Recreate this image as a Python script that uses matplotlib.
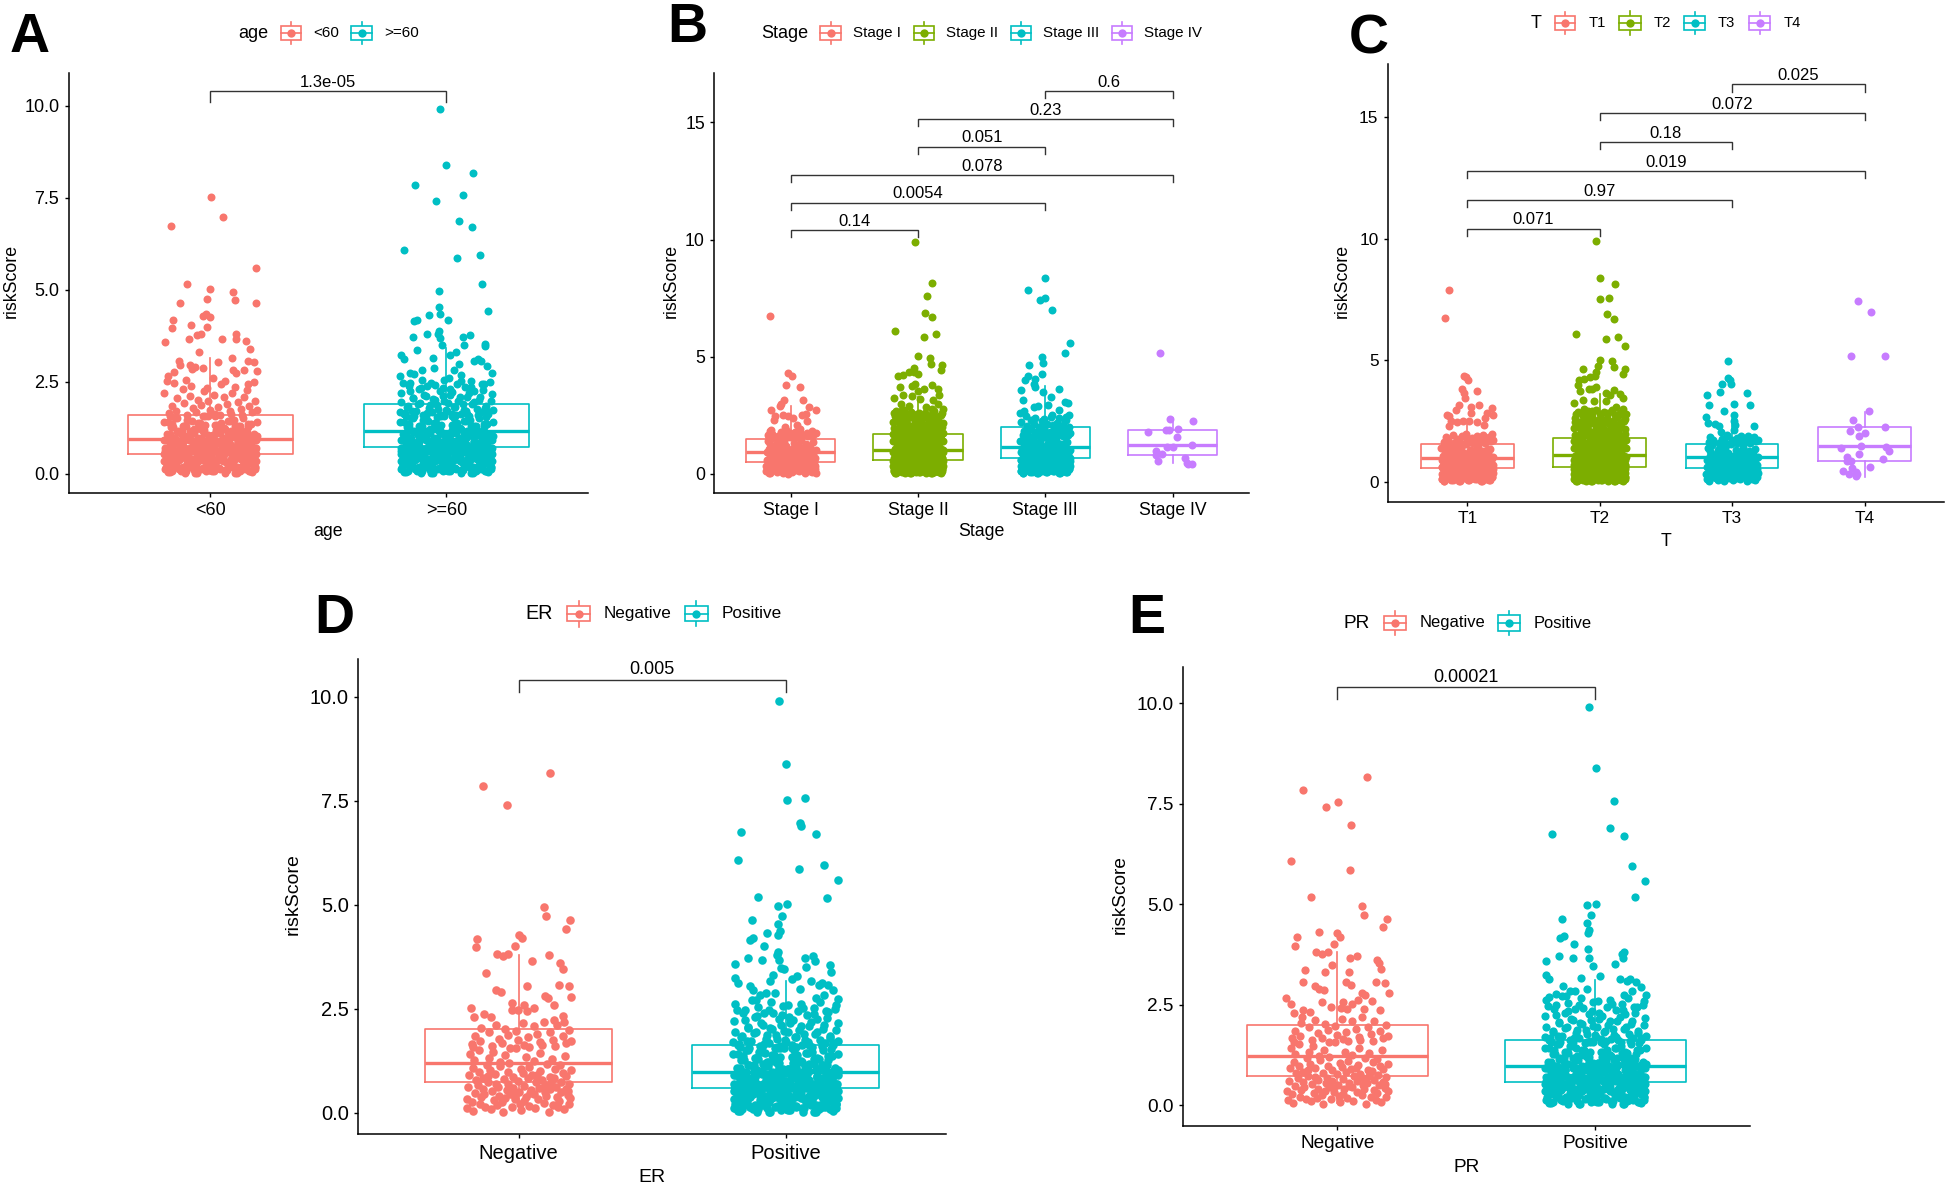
import matplotlib
matplotlib.use("Agg")
import matplotlib.pyplot as plt
from matplotlib.patches import Rectangle
from matplotlib.lines import Line2D

plt.rcParams['font.family'] = ['Liberation Sans', 'DejaVu Sans']

W, H = 1946, 1187
RED, GREEN, TEAL, PURPLE = '#F8766D', '#7CAE00', '#00BFC4', '#C77CFF'

# ---- dense lower cloud, read from the packed part of the strips (jitter as a share of the strip half width)
low_j = [-.97,-.93,-.96,-.90,-.94,-.88,-.85,-.82,-.86,-.80,-.83,-.76,-.72,-.74,-.70,-.75,-.66,-.62,-.67,-.60,-.64,-.57,
         -.55,-.52,-.58,-.49,-.53,-.46,-.43,-.47,-.40,-.44,-.37,-.34,-.38,-.31,-.35,-.28,-.25,-.29,-.22,-.26,-.19,-.16,
         -.20,-.13,-.17,-.10,-.07,-.11,-.04,-.08,-.01,.02,.05,.01,.08,.04,.11,.14,.10,.17,.13,.20,.23,.19,.26,.22,
         .29,.32,.28,.35,.31,.38,.41,.37,.44,.40,.47,.50,.53,.49,.56,.52,.59,.62,.58,.65,.61,.68,.71,.67,.74,.70,
         .77,.80,.76,.83,.79,.86,.89,.85,.92,.88,.95,.98,.94,.97,.93]
low_v = [.34,.92,.12,1.41,.61,.27,1.08,.48,.05,.79,1.27,.66,.21,.98,.38,1.52,.83,.15,.57,1.16,.44,.73,
         1.31,.09,.88,.52,1.03,.30,.70,1.46,.18,.93,.41,1.12,.62,.25,1.22,.80,.36,.03,.55,1.38,.97,.46,
         .68,.14,1.19,.87,.32,.59,1.56,.42,.76,.22,1.05,.50,.95,.07,.64,1.33,.28,.83,.39,1.10,.54,.17,.90,.47,
         1.25,.73,.45,.91,.11,.60,1.43,.33,.78,1.00,.24,.51,1.17,.67,.02,.40,.86,1.29,.56,.19,.71,1.06,.37,.84,.13,.63,
         1.14,.49,.29,.96,.75,1.36,.58,.08,.43,.89,.20,1.02,.69,.35,.53]
high_j = [-.95,-.88,-.97,-.82,-.76,-.85,-.70,-.64,-.73,-.58,-.55,-.49,-.52,-.43,-.37,-.40,-.31,-.25,-.28,-.19,-.13,-.16,
          -.07,-.01,-.04,.05,.11,.08,.17,.23,.20,.29,.35,.32,.41,.47,.44,.53,.59,.56,.65,.71,.68,.77,.83,.80,.89,.95,.92,.98]
high_v = [2.62,1.66,2.21,1.84,2.48,1.58,2.05,2.71,1.72,2.30,1.93,1.61,2.55,2.12,1.78,2.40,1.68,2.02,2.66,1.87,2.26,1.56,
          2.34,1.74,1.97,2.60,1.64,2.15,1.81,2.45,1.59,2.08,1.90,2.52,1.70,2.19,1.62,2.37,1.95,2.75,1.76,2.10,1.60,2.28,1.85,2.43,1.67,1.99,2.50,1.73]

# ---- panel A
a1_j = [-.167,.003,.053,.193,-.10,0,.095,-.015,.103,-.13,.193,-.02,-.03,0,-.157,-.162,-.083,-.015,-.19,-.09,-.057,-.04,.048,.11,.108,.153,.167,-.047,.093,.031,-.134,-.13,-.086,-.064,-.031,-.078,.159,.186,-.155,-.18,-.183,.198,.143,.095,.107]
a1_v = [6.74,7.53,6.98,5.58,5.17,5.02,4.95,4.74,4.72,4.63,4.63,4.34,4.29,4.27,4.17,3.97,4.03,4.0,3.57,3.67,3.78,3.8,3.65,3.8,3.65,3.61,3.39,3.32,3.15,3.04,3.06,2.96,2.95,2.9,2.88,2.85,3.06,3.03,2.76,2.67,2.51,2.79,2.83,2.81,2.74]
a2_j = [-.026,0,.114,-.134,.069,-.045,.055,.109,-.181,.047,.141,.152,-.033,-.033,.176,-.072,-.026,-.136,-.124,.009,-.029,-.083,-.034,-.143,-.026,.072,.1,.074,.162,.162,-.017,-.126,.04,.016,-.193,-.181,-.057,.117,.133,.148,.052,.172,-.053,-.102,.034,.195,-.155,-.136,-.198,.06]
a2_v = [9.9,8.39,8.16,7.85,7.57,7.42,6.88,6.7,6.09,5.85,5.95,5.17,4.98,4.53,4.42,4.31,4.34,4.16,4.19,4.18,3.88,3.81,3.81,3.71,3.68,3.73,3.77,3.5,3.54,3.47,3.49,3.37,3.3,3.22,3.24,3.13,3.16,3.06,3.13,3.06,2.98,2.93,2.88,2.83,2.83,2.73,2.74,2.71,2.66,2.69]

# ---- panel B
b1_j = [-.163,-.02,.01,-.035,.077,-.054,.096,-.074,-.086,-.154,.198,.144,.118,.086,-.12,-.064,-.02,.022,.128,-.128,-.042,.048,-.154,.064,-.163,-.02,.198]
b1_v = [6.72,4.31,4.19,3.81,3.73,3.16,3.16,2.97,2.9,2.73,2.73,2.85,2.55,2.5,2.47,2.5,2.47,2.39,2.27,2.32,2.0,2.09,1.86,1.86,.03,0,.03]
b2_j = [-.022,.112,.07,.058,.109,-.182,.048,.144,.003,.093,.102,.192,-.032,.179,-.16,-.115,-.067,-.003,-.03,-.05,-.14,-.02,.112,.05,.157,.166,-.12,-.189,-.048,0,.118,.013,.16,-.131,.198,-.067,-.17,.06]
b2_v = [9.9,8.14,7.58,6.88,6.69,6.08,5.85,5.95,5.02,4.94,4.71,4.63,4.53,4.42,4.18,4.22,4.33,4.27,4.37,3.77,3.72,3.84,3.8,3.61,3.61,3.38,3.38,3.23,3.31,3.54,3.16,3.19,3.0,3.0,2.77,2.9,2.7,2.85]
b3_j = [0,-.134,0,-.045,.054,.195,.154,-.029,-.016,-.128,-.029,-.138,-.163,-.08,-.09,-.08,-.189,.106,-.019,.045,-.179,.154,.182,-.09,-.058,.022,.106,-.17,.166,.054,-.2]
b3_v = [8.38,7.85,7.52,7.41,6.98,5.58,5.15,4.98,4.73,4.63,4.27,4.18,3.99,4.07,3.84,3.69,3.57,3.64,3.49,3.29,3.14,3.05,3.02,2.85,2.9,2.93,2.73,2.7,2.29,2.52,2.62]
b4_j = [-.099,-.022,.157,-.192,-.054,-.032,.042,.032,.15,-.048,0,-.128,-.086,-.128,-.118,.099,.112,.15,.118]
b4_v = [5.15,2.36,2.24,1.77,1.86,1.89,1.92,1.59,1.25,1.13,1.14,.99,.84,.79,.56,.69,.46,.44,.41]

# ---- panel C
c1_j = [-.136,-.166,-.028,-.009,.006,-.037,.074,-.025,-.015,-.059,.092,.031,.185,-.083,.148,-.154,.194,-.139,.025,.133,-.123,-.077,-.031,.015,.077,.123,-.139]
c1_v = [7.88,6.75,4.35,4.31,4.19,3.82,3.74,3.66,3.47,3.18,3.16,3.07,3.04,2.97,2.85,2.75,2.74,2.71,2.82,2.63,2.49,2.45,2.49,2.52,2.46,2.34,2.31]
c2_j = [-.025,0,.114,.003,.071,.059,.111,-.182,.049,.142,.191,.003,.096,.105,-.015,-.129,.194,-.028,.176,-.157,-.12,-.071,-.034,-.166,-.083,-.028,-.059,.111,-.145,.049,.08,.157,.173,-.126,-.043,-.191,.049,.126,.173,-.12,.2,-.059,-.16,-.09,-.03,.03,.09,.15,-.18,-.12,-.06,0,.06,.12,.18]
c2_v = [9.93,8.4,8.16,7.54,7.59,6.9,6.72,6.1,5.87,5.96,5.6,5.03,4.96,4.72,4.76,4.65,4.65,4.54,4.43,4.18,4.25,4.32,4.37,3.99,3.81,3.91,3.81,3.78,3.74,3.66,3.59,3.62,3.44,3.37,3.34,3.25,3.34,3.1,3.0,3.0,2.78,2.93,2.86,2.9,2.97,2.88,2.95,2.84,2.78,2.8,2.85,2.79,2.83,2.76,2.7]
c3_j = [-.028,-.028,-.018,-.077,-.012,-.089,.111,-.188,.018,.136,-.176,-.065,.015,-.197,-.179,.015,.166,-.133,-.102,.02,.015,-.086,.123,-.04]
c3_v = [4.99,4.28,4.21,4.03,4.01,3.68,3.65,3.59,3.22,3.15,3.15,2.9,2.76,2.68,2.44,2.49,2.31,2.37,2.31,2.34,2.12,2.04,1.9,1.93]
c4_j = [-.046,.052,-.102,.151,.034,-.086,-.046,.154,-.108,.006,-.04,-.176,-.025,.16,.182,-.04,-.129,.139,-.102,-.133,.043,-.096,-.163,-.12,-.062,-.065,-.055]
c4_v = [7.44,7.0,5.18,5.18,2.9,2.53,2.26,2.24,2.09,2.0,1.9,1.41,1.49,1.43,1.28,1.16,1.01,.94,.87,.87,.6,.57,.43,.32,.4,.24,.32]

# ---- panel D
d1_j = [.117,-.132,-.043,.096,.104,.194,.176,.002,.011,-.157,-.014,-.161,-.08,-.057,-.038,.112,.05,.154,.165,-.123,.03,.151,.187,-.085,-.065,.098,.109,.198,-.025,.134,.022,.058,-.178,-.025,-.002,.03,-.128,-.104,-.167,.167,.132,.171]
d1_v = [8.17,7.86,7.41,4.95,4.72,4.63,4.42,4.27,4.19,4.17,4.0,3.98,3.81,3.76,3.81,3.8,3.64,3.6,3.46,3.37,3.04,3.06,3.04,2.95,2.9,2.8,2.76,2.78,2.63,2.59,2.59,2.53,2.52,2.46,2.48,2.44,2.38,2.3,2.3,2.33,2.24,2.19]
d2_j = [-.024,.002,.072,.003,.054,.057,.112,-.167,-.18,.05,.143,.194,-.102,.154,.005,-.03,-.014,-.128,-.03,-.069,-.022,-.028,-.121,-.135,-.082,-.03,-.033,-.142,.074,.102,-.088,-.025,.11,-.191,.164,.077,-.017,-.006,.169,.043,-.046,.022,-.191,-.057,-.18,.096,.123,.137,.159,.176,-.132,-.124,.054,-.072,-.041,-.096,.195,.143]
d2_v = [9.9,8.39,7.57,7.53,6.96,6.89,6.7,6.74,6.08,5.86,5.96,5.59,5.18,5.17,5.02,4.98,4.74,4.63,4.53,4.32,4.36,4.27,4.2,4.15,4.02,3.87,3.8,3.72,3.72,3.77,3.67,3.67,3.64,3.58,3.55,3.51,3.47,3.45,3.39,3.3,3.31,3.22,3.25,3.16,3.13,3.16,3.06,3.13,3.06,2.94,3.04,2.94,2.98,2.87,2.89,2.84,2.73,2.83]

# ---- panel E
e1_j = [.114,-.134,.003,-.044,.052,-.18,.049,-.103,.095,.103,.193,.176,-.07,0,.008,-.157,-.163,-.015,-.082,-.059,-.036,.074,.049,.154,.162,.168,-.021,-.126,-.047,.044,-.134,.15,.186,.034,.052,-.087,-.07,-.054,.096,.108,.198,-.199,-.18,.132,-.059,.023,.08,.056,-.026,.015,.038,.103,.165,-.168,-.132,-.108,-.137]
e1_v = [8.16,7.85,7.53,7.42,6.97,6.08,5.85,5.18,4.95,4.72,4.63,4.42,4.31,4.27,4.19,4.18,3.97,4.0,3.8,3.76,3.8,3.72,3.65,3.61,3.53,3.39,3.49,3.37,3.32,3.3,3.05,3.06,3.03,3.05,2.98,2.95,2.9,2.87,2.8,2.74,2.78,2.66,2.52,2.59,2.57,2.57,2.62,2.52,2.44,2.42,2.39,2.39,2.37,2.29,2.37,2.31,2.2]
e2_j = [-.025,.002,.072,.057,.111,-.167,.144,.194,.155,.003,-.031,-.015,-.129,-.031,-.025,-.028,-.123,-.137,-.082,-.028,.111,.103,-.14,-.088,-.023,.108,-.191,.078,-.008,-.191,-.18,-.056,.02,.096,.134,.158,.121,.176,-.127,-.033,.144,-.1,-.078,.196,-.152,-.18]
e2_v = [9.9,8.39,7.57,6.89,6.69,6.74,5.95,5.58,5.17,5.01,4.98,4.73,4.63,4.53,4.35,4.28,4.2,4.15,4.02,3.89,3.8,3.77,3.71,3.67,3.66,3.65,3.58,3.51,3.46,3.24,3.13,3.16,3.22,3.14,3.14,3.05,3.08,2.93,2.95,2.88,2.83,2.83,2.85,2.73,2.76,2.68]

# box statistics (q1, median, q3, lower whisker, upper whisker)
a_box = [(.53,.94,1.6,0,3.15),(.73,1.16,1.9,0,3.42)]
b_box = [(.52,.93,1.51,0,2.9),(.59,1.02,1.72,0,3.3),(.67,1.17,2.0,0,3.77),(.79,1.25,1.89,.46,2.4)]
c_box = [(.57,.97,1.57,0,2.56),(.62,1.09,1.82,0,3.6),(.56,1.01,1.56,0,2.6),(.85,1.46,2.25,.2,2.88)]
d_box = [(.73,1.2,2.02,.04,3.8),(.59,.99,1.63,0,3.16)]
e_box = [(.71,1.21,2.0,.05,3.8),(.58,.97,1.61,0,3.12)]

# brackets: group a, group b, bar height, label
a_br = [(1,2,10.4,'1.3e-05')]
b_br = [(1,2,10.4,'0.14'),(1,3,11.57,'0.0054'),(1,4,12.76,'0.078'),(2,3,13.96,'0.051'),(2,4,15.14,'0.23'),(3,4,16.33,'0.6')]
c_br = [(1,2,10.43,'0.071'),(1,3,11.6,'0.97'),(1,4,12.8,'0.019'),(2,3,13.99,'0.18'),(2,4,15.18,'0.072'),(3,4,16.37,'0.025')]
d_br = [(1,2,10.41,'0.005')]
e_br = [(1,2,10.4,'0.00021')]

cat_age = ['<60', '>=60']
cat_stage = ['Stage I', 'Stage II', 'Stage III', 'Stage IV']
cat_t = ['T1', 'T2', 'T3', 'T4']
cat_rec = ['Negative', 'Positive']


def cloud(layers=1, mirror_high=False, high_cap=2.8, use_high=True):
    j = list(low_j)
    v = list(low_v)
    if layers >= 2:
        j += [-x for x in low_j]
        v += low_v[::-1]
    if layers >= 3:
        j += low_j[::-1]
        v += low_v
    if use_high:
        for x, y in zip(high_j, high_v):
            if y <= high_cap:
                j.append(x); v.append(y)
                if mirror_high:
                    j.append(-x); v.append(y - .04)
    return j, v


fig = plt.figure(figsize=(W / 100, H / 100), dpi=100, facecolor='white')


def panel(rect, ylim, yticks, yfmt, cats, xlabel, boxes, colors, hands, clouds, brackets,
          tick_fs, p_fs, s, ylab_x, xlab_y, xlab_fs):
    left, right, top, bottom = rect
    ax = fig.add_axes([left / W, 1 - bottom / H, (right - left) / W, (bottom - top) / H])
    n = len(cats)
    ax.set_xlim(.4, n + .6)
    ax.set_ylim(*ylim)
    stats = [dict(q1=b[0], med=b[1], q3=b[2], whislo=b[3], whishi=b[4], fliers=[]) for b in boxes]
    for i, (st, col) in enumerate(zip(stats, colors)):
        ax.bxp([st], positions=[i + 1], widths=.7, showfliers=False, showcaps=False, manage_ticks=False,
               boxprops=dict(color=col, lw=1.2), whiskerprops=dict(color=col, lw=1.2),
               medianprops=dict(color=col, lw=2.4), zorder=2)
        hj, hv = hands[i]
        cj, cv = clouds[i]
        xs = [i + 1 + .2 * x for x in cj] + [i + 1 + x for x in hj]
        ys = list(cv) + list(hv)
        ax.scatter(xs, ys, s=s, color=col, linewidths=0, zorder=3)
    for a, b, y, lab in brackets:
        ax.plot([a, a, b, b], [y - .3, y, y, y - .3], color='#333333', lw=1.0, zorder=4, solid_joinstyle='miter')
        ax.annotate(lab, ((a + b) / 2, y), xytext=(0, 1), textcoords='offset points', ha='center', va='bottom',
                    fontsize=p_fs, color='black')
    for sp in ('top', 'right'):
        ax.spines[sp].set_visible(False)
    for sp in ('left', 'bottom'):
        ax.spines[sp].set_linewidth(1.1)
    ax.set_xticks(range(1, n + 1))
    ax.set_xticklabels(cats)
    ax.set_yticks(yticks)
    ax.set_yticklabels([yfmt % t for t in yticks])
    ax.tick_params(labelsize=tick_fs, length=3.2, width=1, pad=3.5)
    ax.set_xlabel(xlabel, fontsize=xlab_fs, va='center')
    ax.set_ylabel('riskScore', fontsize=xlab_fs, va='center')
    ax.xaxis.set_label_coords(.5, (bottom - xlab_y) / (bottom - top))
    ax.yaxis.set_label_coords((ylab_x - left) / (right - left), .505)
    return ax


panel((68.6, 588, 72.5, 492.9), (-.516, 10.9), [0, 2.5, 5, 7.5, 10], '%.1f', cat_age, 'age', a_box, [RED, TEAL],
      [(a1_j, a1_v), (a2_j, a2_v)], [cloud(3, False, 2.6), cloud(3, True, 2.6)], a_br, 13, 12, 33, 11, 531, 12.8)
panel((714.3, 1249, 72.5, 492.9), (-.81, 17.13), [0, 5, 10, 15], '%d', cat_stage, 'Stage', b_box, [RED, GREEN, TEAL, PURPLE],
      [(b1_j, b1_v), (b2_j, b2_v), (b3_j, b3_v), (b4_j, b4_v)],
      [cloud(1, False, 1.9), cloud(3, True), cloud(2, False, 2.5), ([], [])], b_br, 12.7, 12, 33, 671.4, 532, 12.8)
panel((1387.8, 1944, 64.3, 501.8), (-.82, 17.19), [0, 5, 10, 15], '%d', cat_t, 'T', c_box, [RED, GREEN, TEAL, PURPLE],
      [(c1_j, c1_v), (c2_j, c2_v), (c3_j, c3_v), (c4_j, c4_v)],
      [cloud(2, False, 2.0), cloud(3, True), cloud(1, False, 1.9), ([], [])], c_br, 12.4, 12, 33, 1342.7, 541, 12.8)
panel((358.3, 946, 659.4, 1134.4), (-.52, 10.9), [0, 2.5, 5, 7.5, 10], '%.1f', cat_rec, 'ER', d_box, [RED, TEAL],
      [(d1_j, d1_v), (d2_j, d2_v)], [cloud(1, False, 2.2), cloud(3, True)], d_br, 14.5, 13, 38, 293, 1177.5, 14)
panel((1182.8, 1750, 667.1, 1125.9), (-.52, 10.9), [0, 2.5, 5, 7.5, 10], '%.1f', cat_rec, 'PR', e_box, [RED, TEAL],
      [(e1_j, e1_v), (e2_j, e2_v)], [cloud(1, False, 2.2), cloud(3, True)], e_br, 13.7, 13, 35, 1120.5, 1168, 13.7)

# overlay in pixel coordinates for the legends and panel letters
ov = fig.add_axes([0, 0, 1, 1], zorder=10)
ov.set_xlim(0, W)
ov.set_ylim(H, 0)
ov.axis('off')
ov.patch.set_alpha(0)


def legend(yc, title, tx, t_fs, l_fs, keys):
    ov.text(tx, yc, title, fontsize=t_fs, ha='left', va='center')
    for x0, x1, lx, lab, col in keys:
        xm = (x0 + x1) / 2
        hb = (x1 - x0) * .33
        ov.add_line(Line2D([xm, xm], [yc - hb * 1.65, yc + hb * 1.65], color=col, lw=1.2))
        ov.add_patch(Rectangle((x0, yc - hb), x1 - x0, 2 * hb, fc='white', ec=col, lw=1.2, zorder=3))
        ov.add_line(Line2D([x0, x1], [yc, yc], color=col, lw=1.2, zorder=4))
        ov.add_line(Line2D([xm], [yc], marker='o', ms=6, mfc=col, mec=col, mew=0, color=col, zorder=5))
        ov.text(lx, yc, lab, fontsize=l_fs, ha='left', va='center')


legend(33, 'age', 238, 13, 11, [(281, 301, 313.5, cat_age[0], RED), (351, 372, 384, cat_age[1], TEAL)])
legend(33, 'Stage', 760.8, 13, 10.9, [(820.4, 840.8, 853, cat_stage[0], RED), (913.5, 934, 946, cat_stage[1], GREEN),
                                       (1010.6, 1031, 1043, cat_stage[2], TEAL), (1111.8, 1132, 1144.5, cat_stage[3], PURPLE)])
legend(23, 'T', 1531, 13, 10.6, [(1554.6, 1575.4, 1588.4, cat_t[0], RED), (1619, 1640.7, 1653.8, cat_t[1], GREEN),
                                  (1684, 1705, 1718, cat_t[2], TEAL), (1749, 1770, 1783.6, cat_t[3], PURPLE)])
legend(613.7, 'ER', 525, 14.2, 12.3, [(566.7, 590.3, 603.8, cat_rec[0], RED), (684.6, 708, 721.6, cat_rec[1], TEAL)])
legend(623, 'PR', 1343.6, 13.7, 11.9, [(1383.6, 1406.3, 1419.3, cat_rec[0], RED), (1497.6, 1520.4, 1533.4, cat_rec[1], TEAL)])

for lab, x, y in [('A', 10, 52), ('B', 667, 42), ('C', 1349, 53), ('D', 314, 633), ('E', 1128, 633)]:
    ov.text(x, y, lab, fontsize=40, fontweight='bold', ha='left', va='baseline', color='black')

fig.savefig('out.png', dpi=100)
